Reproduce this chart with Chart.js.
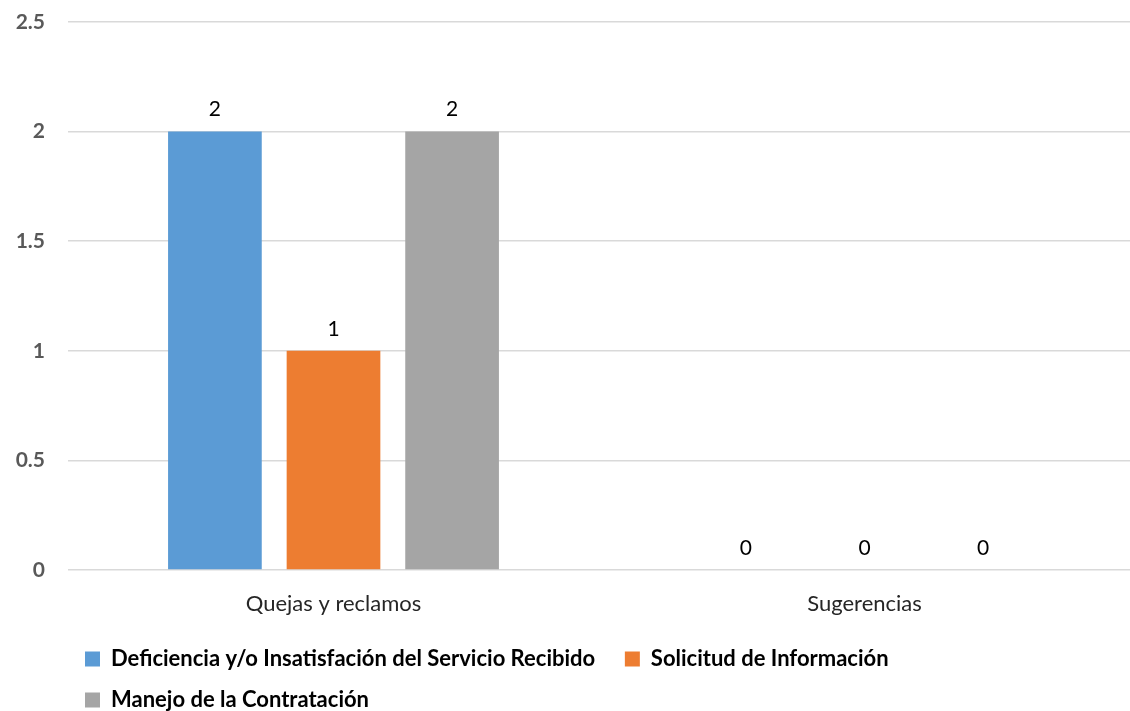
<!DOCTYPE html>
<html>
<head>
<meta charset="utf-8">
<script src="https://cdn.jsdelivr.net/npm/chart.js@4/dist/chart.umd.min.js"></script>
<style>
  html, body { margin: 0; padding: 0; background: #fff; }
  #wrap { width: 1130px; height: 711px; position: relative; }
</style>
</head>
<body>
<div id="wrap"><canvas id="chart"></canvas></div>
<script>
var categories = ['Quejas y reclamos', 'Sugerencias'];
var deficiencia = [2, 0];
var solicitud = [1, 0];
var manejo = [2, 0];
var seriesNames = ['Deficiencia y/o Insatisfación del Servicio Recibido', 'Solicitud de Información', 'Manejo de la Contratación'];
var yTicks = [0, 0.5, 1, 1.5, 2, 2.5];

var FONT = 'Lato';

// etiquetas de valor encima de cada barra
var valueLabels = {
    id: 'valueLabels',
    afterDatasetsDraw: function(chart) {
        var ctx = chart.ctx;
        ctx.save();
        ctx.font = '21px ' + FONT;
        ctx.fillStyle = '#000';
        ctx.textAlign = 'center';
        ctx.textBaseline = 'middle';
        chart.data.datasets.forEach(function(ds, i) {
            chart.getDatasetMeta(i).data.forEach(function(bar, j) {
                ctx.fillText(ds.data[j], bar.x, bar.y - 22);
            });
        });
        ctx.restore();
    }
};

// leyenda alineada a la izquierda como en el original
var moveLegend = {
    id: 'moveLegend',
    afterLayout: function(chart) {
        var lg = chart.legend;
        lg.left = 66;
        lg.top = 629;
    }
};

var ctx = document.getElementById('chart').getContext('2d');
var chart = new Chart(ctx, {
    type: 'bar',
    data: {
        labels: categories,
        datasets: [{
            label: seriesNames[0],
            data: deficiencia,
            backgroundColor: '#5B9BD5'
        }, {
            label: seriesNames[1],
            data: solicitud,
            backgroundColor: '#ED7D31'
        }, {
            label: seriesNames[2],
            data: manejo,
            backgroundColor: '#A5A5A5'
        }]
    },
    options: {
        responsive: true,
        maintainAspectRatio: false,
        animation: false,
        layout: { padding: { top: 22, left: 0, right: 0, bottom: 0 } },
        datasets: {
            bar: { categoryPercentage: 0.67, barPercentage: 0.79 }
        },
        scales: {
            x: {
                grid: { display: false, drawTicks: false },
                border: { display: false },
                ticks: {
                    padding: 21,
                    color: '#262626',
                    font: { family: FONT, size: 22 }
                },
                afterFit: function(scale) { scale.height = 49; }
            },
            y: {
                min: 0,
                max: 2.5,
                afterBuildTicks: function(scale) {
                    scale.ticks = yTicks.map(function(v) { return { value: v }; });
                },
                grid: { color: '#D9D9D9', lineWidth: 1.5, drawTicks: false },
                border: { display: false },
                ticks: {
                    padding: 23,
                    color: '#595959',
                    font: { family: FONT, size: 21, weight: 'bold' },
                    callback: function(v) { return String(v); }
                },
                afterFit: function(scale) {
                    scale.width = 68;
                    scale.paddingTop = 0;
                    scale.paddingBottom = 0;
                }
            }
        },
        plugins: {
            tooltip: { enabled: false },
            legend: {
                position: 'bottom',
                align: 'start',
                labels: {
                    boxWidth: 15,
                    boxHeight: 15,
                    padding: 19,
                    color: '#000',
                    font: { family: FONT, size: 22, weight: 'bold' },
                    generateLabels: function(chart) {
                        var items = Chart.defaults.plugins.legend.labels.generateLabels(chart);
                        // un poco más de aire tras cada texto, como en el original
                        items.forEach(function(it) { it.text = it.text + '  '; });
                        return items;
                    }
                }
            }
        }
    },
    plugins: [valueLabels, moveLegend]
});
</script>
</body>
</html>
